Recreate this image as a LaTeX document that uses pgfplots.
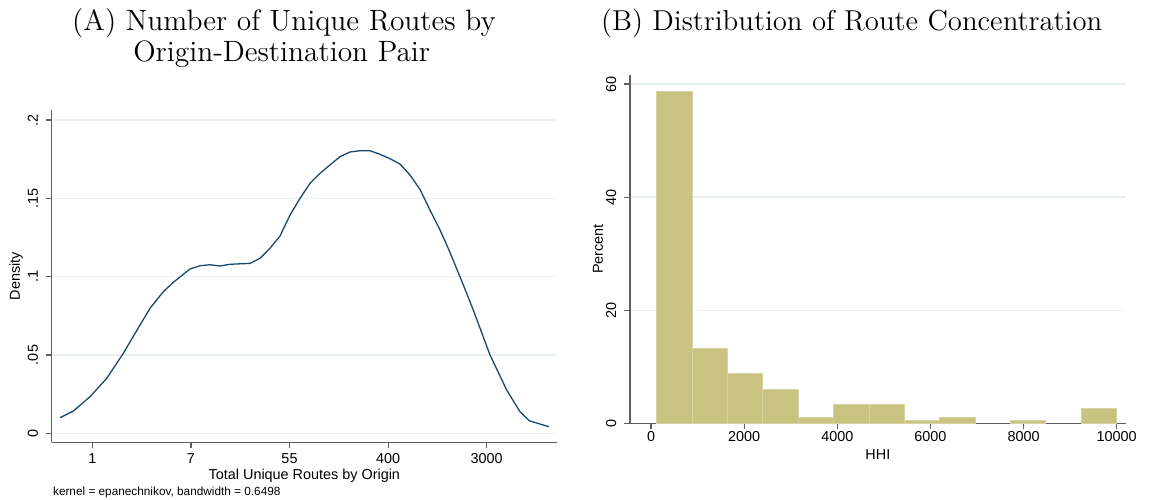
\documentclass[border=0pt]{standalone}
\usepackage{fontspec}
\usepackage{pgfplots}
\pgfplotsset{compat=1.18}
\newfontfamily\arial{Liberation Sans}

\definecolor{navyline}{RGB}{26,71,111}
\definecolor{gridc}{RGB}{232,240,242}
\definecolor{khakifill}{RGB}{201,194,129}
\definecolor{khakiedge}{RGB}{216,211,162}
\definecolor{axisc}{RGB}{95,95,95}

\newcommand{\lblfont}{\arial\fontsize{7.2}{8}\selectfont}

\pgfplotsset{
  statastyle/.style={
    scale only axis,
    axis x line=bottom, axis y line=left,
    axis line style={-, draw=axisc, line width=0.65pt},
    tick style={draw=axisc, line width=0.6pt},
    tick align=outside,
    major tick length=3pt,
    ymajorgrids, xmajorgrids=false,
    grid style={draw=gridc, line width=0.7pt},
    /pgf/number format/assume math mode=true,
    ticklabel style={font=\lblfont, inner sep=0pt},
    label style={font=\lblfont, inner sep=0pt},
    scaled ticks=false,
  }
}

% kernel density, x = ln(routes)
\pgfplotstableread{
lx dens
-0.655 0.00996
-0.385 0.01423
-0.047 0.02336
0.292 0.03511
0.629 0.05106
0.968 0.06913
1.170 0.07978
1.440 0.09038
1.643 0.09638
1.982 0.1049
2.185 0.1070
2.387 0.1076
2.590 0.1068
2.793 0.1079
3.199 0.1085
3.402 0.1117
3.604 0.1181
3.807 0.1259
4.010 0.1393
4.213 0.1500
4.416 0.1596
4.619 0.1660
4.821 0.1713
5.024 0.1766
5.227 0.1796
5.430 0.1804
5.633 0.1804
5.836 0.1781
6.039 0.1753
6.241 0.1719
6.444 0.1649
6.647 0.1557
6.850 0.1425
7.053 0.1298
7.235 0.1170
7.458 0.1000
7.728 0.0787
8.067 0.0500
8.406 0.0276
8.675 0.0138
8.864 0.0080
9.264 0.0042
}\densdata

\begin{document}
\begin{tikzpicture}
\useasboundingbox (0,0) rectangle (577pt,249.5pt);

% titles
\node[anchor=base, inner sep=0pt, font=\fontsize{14.7}{17}\selectfont] at (142pt,234.15pt) {(A) Number of Unique Routes by};
\node[anchor=base, inner sep=0pt, font=\fontsize{14.7}{17}\selectfont] at (140.85pt,218.65pt) {Origin-Destination Pair};
\node[anchor=base, inner sep=0pt, font=\fontsize{14.4}{17}\selectfont] at (425.85pt,234.15pt) {(B) Distribution of Route Concentration};

% panel A
\begin{axis}[statastyle,
  at={(25.85pt,28.35pt)}, anchor=south west,
  width=252.65pt, height=166.15pt,
  xmin=-0.8235, xmax=9.426, ymin=-0.00574, ymax=0.2064,
  xtick={0,2,4,6,8}, xticklabels={1,7,55,400,3000},
  ytick={0,0.05,0.1,0.15,0.2}, yticklabels={0,.05,.1,.15,.2},
  xticklabel style={anchor=north, yshift=-2.2pt},
  yticklabel style={xshift=-3.7pt, rotate=90, anchor=south},
  xlabel={Total Unique Routes by Origin},
  ylabel={Density},
  xlabel style={at={(axis description cs:0.5,-0.0782)}, anchor=north},
  ylabel style={at={(axis description cs:-0.0562,0.5)}, rotate=0, anchor=south},
]
\addplot[navyline, line width=0.65pt, no markers] table[x=lx, y=dens] {\densdata};
\end{axis}
\node[anchor=base west, inner sep=0pt, font=\arial\fontsize{5.9}{6.5}\selectfont] at (26.35pt,1.6pt) {kernel = epanechnikov, bandwidth = 0.6498};

% panel B
\begin{axis}[statastyle,
  at={(315pt,37.85pt)}, anchor=south west,
  width=247.85pt, height=174.15pt,
  xmin=-451, xmax=10193, ymin=0, ymax=61.6,
  xtick={0,2000,4000,6000,8000,10000},
  xticklabels={0,2000,4000,6000,8000,10000},
  ytick={0,20,40,60}, yticklabels={0,20,40,60},
  xticklabel style={anchor=north, yshift=-0.7pt},
  yticklabel style={xshift=-3.7pt, rotate=90, anchor=south},
  xlabel={HHI},
  ylabel={Percent},
  xlabel style={at={(axis description cs:0.5,-0.0738)}, anchor=north},
  ylabel style={at={(axis description cs:-0.0539,0.5)}, rotate=0, anchor=south},
]
\addplot[ybar interval, fill=khakifill, draw=khakiedge, line width=0.5pt]
  coordinates {(122,58.64) (881.9,13.26) (1641.7,8.84) (2401.6,6.01) (3161.4,1.06)
    (3921.3,3.24) (4681.1,3.24) (5441.0,0.53) (6200.8,1.06) (6960.7,1.06)};
\addplot[ybar interval, fill=khakifill, draw=khakiedge, line width=0.5pt]
  coordinates {(7720.5,0.53) (8480.4,0.53)};
\addplot[ybar interval, fill=khakifill, draw=khakiedge, line width=0.5pt]
  coordinates {(9240.2,2.65) (10000.1,2.65)};
\end{axis}
\end{tikzpicture}
\end{document}
